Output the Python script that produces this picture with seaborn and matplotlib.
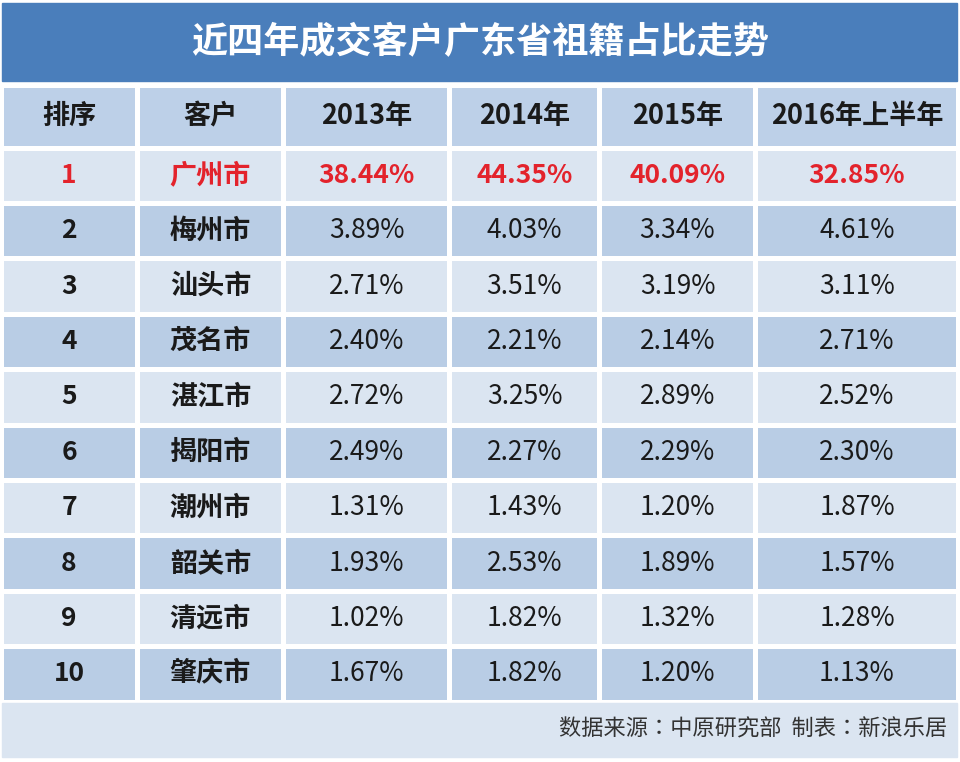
import numpy as np
import matplotlib
matplotlib.use("Agg")
import matplotlib.pyplot as plt
from matplotlib.colors import ListedColormap
from matplotlib.patches import Rectangle
from matplotlib.ticker import NullLocator
import seaborn as sns

sns.set_style("white")
plt.rcParams["font.family"] = ["Noto Sans CJK SC", "DejaVu Sans"]

TITLE = "近四年成交客户广东省祖籍占比走势"
FOOTER = "数据来源：中原研究部  制表：新浪乐居"

headers = ["排序", "客户", "2013年", "2014年", "2015年", "2016年上半年"]
ranks = ["1", "2", "3", "4", "5", "6", "7", "8", "9", "10"]
cities = ["广州市", "梅州市", "汕头市", "茂名市", "湛江市",
          "揭阳市", "潮州市", "韶关市", "清远市", "肇庆市"]
y2013 = [38.44, 3.89, 2.71, 2.40, 2.72, 2.49, 1.31, 1.93, 1.02, 1.67]
y2014 = [44.35, 4.03, 3.51, 2.21, 3.25, 2.27, 1.43, 2.53, 1.82, 1.82]
y2015 = [40.09, 3.34, 3.19, 2.14, 2.89, 2.29, 1.20, 1.89, 1.32, 1.20]
y2016h1 = [32.85, 4.61, 3.11, 2.71, 2.52, 2.30, 1.87, 1.57, 1.28, 1.13]

TITLE_BLUE = "#4A7EBB"
LIGHT = "#DBE5F1"
DARK = "#B9CDE5"
HEAD = "#BDD0E8"
RED = "#E3232C"
INK = "#1A1A1A"

W, H = 960, 762
fig = plt.figure(figsize=(W / 100, H / 100), dpi=100)

# pixel edges of columns / rows (cell borders incl. white gaps)
col_px = [0.5, 137.5, 283.5, 449.5, 599.5, 755.5, 958.5]
row_px = [84.5, 147.5] + [147.5 + 55.4 * k for k in range(1, 11)]

# title band and footer band
fig.patches.append(Rectangle((2 / W, 1 - 81 / H), 955 / W, 78 / H,
                             transform=fig.transFigure, color=TITLE_BLUE, zorder=0))
fig.patches.append(Rectangle((2 / W, 1 - 757 / H), 955 / W, 54 / H,
                             transform=fig.transFigure, color=LIGHT, zorder=0))
fig.text(0.5, 1 - 43 / H, TITLE, color="white", fontsize=26, fontweight="bold",
         ha="center", va="center")
fig.text(947 / W, 1 - 729 / H, FOOTER, color="#333333", fontsize=16,
         family=["Noto Sans CJK TC", "DejaVu Sans"], ha="right", va="center")

# table body
left, right = col_px[0], col_px[-1]
top, bottom = row_px[0], row_px[-1]
ax = fig.add_axes([left / W, 1 - bottom / H, (right - left) / W, (bottom - top) / H])

n_rows = len(ranks) + 1
codes = np.zeros((n_rows, len(headers)))
codes[0, :] = 2
for i in range(len(ranks)):
    codes[i + 1, :] = 0 if i % 2 == 0 else 1

sns.heatmap(codes, cmap=ListedColormap([LIGHT, DARK, HEAD]), vmin=0, vmax=2,
            cbar=False, linewidths=2.2, linecolor="white",
            xticklabels=False, yticklabels=False, ax=ax)

xi = np.arange(len(col_px), dtype=float)
yi = np.arange(len(row_px), dtype=float)
ax.set_xscale("function", functions=(lambda v: np.interp(v, xi, col_px),
                                     lambda v: np.interp(v, col_px, xi)))
ax.set_yscale("function", functions=(lambda v: np.interp(v, yi, row_px),
                                     lambda v: np.interp(v, row_px, yi)))
ax.set_xlim(0, len(headers))
ax.set_ylim(n_rows, 0)
for axis in (ax.xaxis, ax.yaxis):
    axis.set_major_locator(NullLocator())
    axis.set_minor_locator(NullLocator())
ax.set_xlabel("")
ax.set_ylabel("")
for s in ax.spines.values():
    s.set_visible(False)

for j, h in enumerate(headers):
    ax.text(j + 0.5, 0.5, h, ha="center", va="center", fontsize=19.5,
            fontweight="bold", color=INK)

series = [y2013, y2014, y2015, y2016h1]
for i in range(len(ranks)):
    r = i + 1.5
    first = i == 0
    c = RED if first else INK
    ax.text(0.5, r, ranks[i], ha="center", va="center", fontsize=19,
            fontweight="bold", color=c)
    ax.text(1.5, r, cities[i], ha="center", va="center", fontsize=19.5,
            fontweight="bold", color=c)
    for k, vals in enumerate(series):
        ax.text(k + 2.5, r, f"{vals[i]:.2f}%", ha="center", va="center",
                fontsize=19, fontweight="bold" if first else "normal", color=c)

fig.savefig("out.png", dpi=100)
